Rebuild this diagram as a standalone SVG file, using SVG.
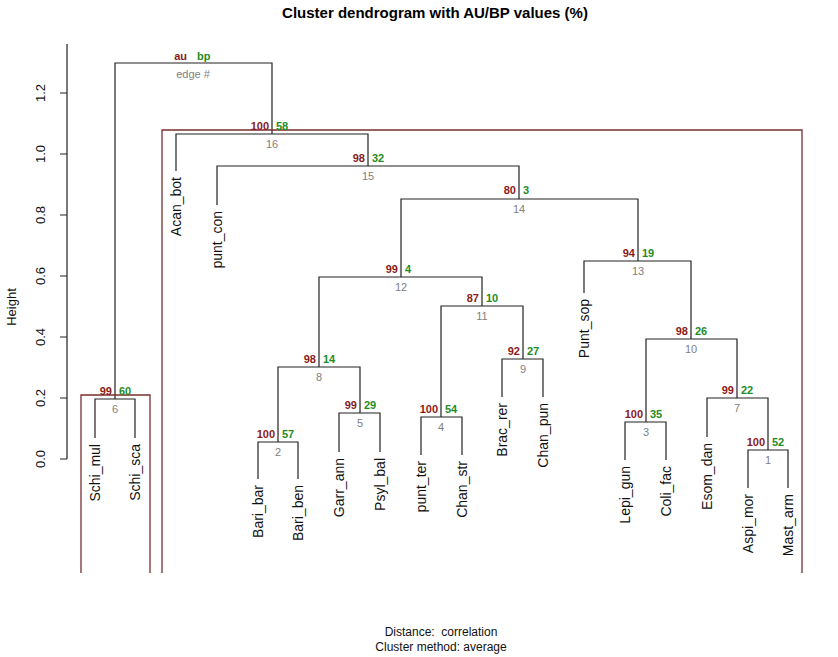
<svg xmlns="http://www.w3.org/2000/svg" width="838" height="657" viewBox="0 0 838 657">
<style>
text{font-family:"Liberation Sans",Arial,sans-serif}
.l{fill:none;stroke:#222;stroke-width:1.2}
.r{fill:none;stroke:#7a2e2e;stroke-width:1.3}
.lf{font-size:14px;fill:#111;text-anchor:end}
.au{font-size:11px;font-weight:bold;fill:#8b1a1a;text-anchor:end}
.bp{font-size:11px;font-weight:bold;fill:#1e8c1e}
.e{font-size:11px;fill:#808080;text-anchor:middle}
.t{font-size:13px;fill:#111;text-anchor:middle}
</style>
<rect width="838" height="657" fill="#fff"/>
<text x="435" y="18" style="font-size:15px;font-weight:bold;text-anchor:middle">Cluster dendrogram with AU/BP values (%)</text>
<g id="axis">
<path class="l" d="M67 44V459M60 459H67M60 398H67M60 337H67M60 276H67M60 215H67M60 154H67M60 93H67"/>
<text class="t" transform="translate(45,459) rotate(-90)">0.0</text>
<text class="t" transform="translate(45,398) rotate(-90)">0.2</text>
<text class="t" transform="translate(45,337) rotate(-90)">0.4</text>
<text class="t" transform="translate(45,276) rotate(-90)">0.6</text>
<text class="t" transform="translate(45,215) rotate(-90)">0.8</text>
<text class="t" transform="translate(45,154) rotate(-90)">1.0</text>
<text class="t" transform="translate(45,93) rotate(-90)">1.2</text>
<text class="t" transform="translate(16,307) rotate(-90)">Height</text>
</g>
<g id="connectors">
<path class="l" d="M115 399V63H272V134"/>
<path class="l" d="M176 171V134H368V166"/>
<path class="l" d="M217 205V166H519V199"/>
<path class="l" d="M401 277V199H638V261"/>
<path class="l" d="M319 367V277H482V306"/>
<path class="l" d="M258 479V442H298V479M278 442V367H360V413"/>
<path class="l" d="M339 452V413H380V452"/>
<path class="l" d="M421 455V417H462V455M441 417V306H523V359"/>
<path class="l" d="M502 397V359H543V397"/>
<path class="l" d="M584 293V261H691V339"/>
<path class="l" d="M646 422V339H737V398"/>
<path class="l" d="M625 460V422H666V460"/>
<path class="l" d="M707 437V398H768V450"/>
<path class="l" d="M748 488V450H788V488"/>
<path class="l" d="M95 438V399H135V438"/>
</g>
<g id="rects">
<path class="r" d="M81 573V395H150V573"/>
<path class="r" d="M162 573V130H802V573"/>
</g>
<g id="legend"><text class="au" x="187" y="60">au</text><text class="bp" x="197" y="60">bp</text><text class="e" x="193" y="78">edge #</text></g>
<g id="values">
<text class="au" x="269" y="130">100</text><text class="bp" x="276" y="130">58</text><text class="e" x="272" y="148">16</text>
<text class="au" x="365" y="162">98</text><text class="bp" x="372" y="162">32</text><text class="e" x="368" y="180">15</text>
<text class="au" x="516" y="194">80</text><text class="bp" x="523" y="194">3</text><text class="e" x="519" y="213">14</text>
<text class="au" x="398" y="273">99</text><text class="bp" x="405" y="273">4</text><text class="e" x="401" y="291">12</text>
<text class="au" x="479" y="302">87</text><text class="bp" x="486" y="302">10</text><text class="e" x="482" y="320">11</text>
<text class="au" x="316" y="363">98</text><text class="bp" x="323" y="363">14</text><text class="e" x="319" y="381">8</text>
<text class="au" x="275" y="438">100</text><text class="bp" x="282" y="438">57</text><text class="e" x="278" y="456">2</text>
<text class="au" x="357" y="409">99</text><text class="bp" x="364" y="409">29</text><text class="e" x="360" y="427">5</text>
<text class="au" x="438" y="413">100</text><text class="bp" x="445" y="413">54</text><text class="e" x="441" y="431">4</text>
<text class="au" x="520" y="355">92</text><text class="bp" x="527" y="355">27</text><text class="e" x="523" y="373">9</text>
<text class="au" x="635" y="257">94</text><text class="bp" x="642" y="257">19</text><text class="e" x="638" y="275">13</text>
<text class="au" x="688" y="335">98</text><text class="bp" x="695" y="335">26</text><text class="e" x="691" y="353">10</text>
<text class="au" x="643" y="418">100</text><text class="bp" x="650" y="418">35</text><text class="e" x="646" y="436">3</text>
<text class="au" x="734" y="394">99</text><text class="bp" x="741" y="394">22</text><text class="e" x="737" y="412">7</text>
<text class="au" x="765" y="446">100</text><text class="bp" x="772" y="446">52</text><text class="e" x="768" y="464">1</text>
<text class="au" x="112" y="395">99</text><text class="bp" x="119" y="395">60</text><text class="e" x="115" y="413">6</text>
</g>
<g id="leaves">
<text class="lf" transform="translate(100,444) rotate(-90)">Schi_mul</text>
<text class="lf" transform="translate(140,444) rotate(-90)">Schi_sca</text>
<text class="lf" transform="translate(181,177) rotate(-90)">Acan_bot</text>
<text class="lf" transform="translate(222,211) rotate(-90)">punt_con</text>
<text class="lf" transform="translate(263,485) rotate(-90)">Bari_bar</text>
<text class="lf" transform="translate(303,485) rotate(-90)">Bari_ben</text>
<text class="lf" transform="translate(344,458) rotate(-90)">Garr_ann</text>
<text class="lf" transform="translate(385,458) rotate(-90)">Psyl_bal</text>
<text class="lf" transform="translate(426,461) rotate(-90)">punt_ter</text>
<text class="lf" transform="translate(467,461) rotate(-90)">Chan_str</text>
<text class="lf" transform="translate(507,403) rotate(-90)">Brac_rer</text>
<text class="lf" transform="translate(548,403) rotate(-90)">Chan_pun</text>
<text class="lf" transform="translate(589,299) rotate(-90)">Punt_sop</text>
<text class="lf" transform="translate(630,466) rotate(-90)">Lepi_gun</text>
<text class="lf" transform="translate(671,466) rotate(-90)">Coli_fac</text>
<text class="lf" transform="translate(712,443) rotate(-90)">Esom_dan</text>
<text class="lf" transform="translate(753,494) rotate(-90)">Aspi_mor</text>
<text class="lf" transform="translate(793,494) rotate(-90)">Mast_arm</text>
</g>
<text class="t" x="441" y="636" style="font-size:12px;white-space:pre" xml:space="preserve">Distance:  correlation</text>
<text class="t" x="441" y="651" style="font-size:12px">Cluster method: average</text>
</svg>
